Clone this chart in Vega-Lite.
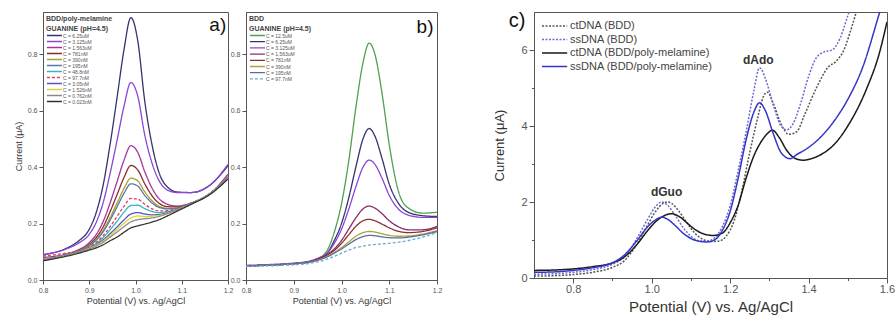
{
"$schema": "https://vega.github.io/schema/vega-lite/v6.json",
"background": "white",
"padding": {"left": 13, "top": 10, "right": 0, "bottom": 0},
"bounds": "flush",
"spacing": 491,
"config": {
  "font": "Liberation Sans",
  "view": {"stroke": "#555", "strokeWidth": 1},
  "axis": {"grid": false, "domainColor": "#555", "tickColor": "#555", "labelColor": "#555", "titleColor": "#333", "titleFontWeight": "normal", "labelFlush": false, "labelOverlap": false, "labelPadding": 2}
},
"resolve": {"scale": {"color": "independent", "strokeDash": "independent"}, "legend": {"color": "independent", "strokeDash": "independent"}},
"hconcat": [
{
  "bounds": "flush",
  "spacing": 18,
  "resolve": {"scale": {"color": "independent", "strokeDash": "independent"}, "legend": {"color": "independent", "strokeDash": "independent"}},
  "hconcat": [
  {
    "width": 185, "height": 268,
    "data": {"values": [
{"s":"C = 6.25uM","x":0.8,"y":0.09},{"s":"C = 6.25uM","x":0.85,"y":0.112},{"s":"C = 6.25uM","x":0.875,"y":0.136},{"s":"C = 6.25uM","x":0.9,"y":0.18},{"s":"C = 6.25uM","x":0.915,"y":0.239},{"s":"C = 6.25uM","x":0.93,"y":0.336},{"s":"C = 6.25uM","x":0.945,"y":0.48},{"s":"C = 6.25uM","x":0.96,"y":0.645},{"s":"C = 6.25uM","x":0.975,"y":0.815},{"s":"C = 6.25uM","x":0.99,"y":0.93},{"s":"C = 6.25uM","x":1.005,"y":0.847},{"s":"C = 6.25uM","x":1.02,"y":0.634},{"s":"C = 6.25uM","x":1.035,"y":0.485},{"s":"C = 6.25uM","x":1.05,"y":0.385},{"s":"C = 6.25uM","x":1.07,"y":0.328},{"s":"C = 6.25uM","x":1.09,"y":0.312},{"s":"C = 6.25uM","x":1.12,"y":0.31},{"s":"C = 6.25uM","x":1.16,"y":0.335},{"s":"C = 6.25uM","x":1.2,"y":0.405},
{"s":"C = 3.125uM","x":0.8,"y":0.09},{"s":"C = 3.125uM","x":0.85,"y":0.11},{"s":"C = 3.125uM","x":0.875,"y":0.129},{"s":"C = 3.125uM","x":0.9,"y":0.162},{"s":"C = 3.125uM","x":0.915,"y":0.204},{"s":"C = 3.125uM","x":0.93,"y":0.274},{"s":"C = 3.125uM","x":0.945,"y":0.377},{"s":"C = 3.125uM","x":0.96,"y":0.494},{"s":"C = 3.125uM","x":0.975,"y":0.615},{"s":"C = 3.125uM","x":0.99,"y":0.7},{"s":"C = 3.125uM","x":1.005,"y":0.651},{"s":"C = 3.125uM","x":1.02,"y":0.514},{"s":"C = 3.125uM","x":1.035,"y":0.418},{"s":"C = 3.125uM","x":1.05,"y":0.355},{"s":"C = 3.125uM","x":1.07,"y":0.318},{"s":"C = 3.125uM","x":1.09,"y":0.31},{"s":"C = 3.125uM","x":1.12,"y":0.31},{"s":"C = 3.125uM","x":1.16,"y":0.335},{"s":"C = 3.125uM","x":1.2,"y":0.41},
{"s":"C = 1.563uM","x":0.8,"y":0.08},{"s":"C = 1.563uM","x":0.85,"y":0.092},{"s":"C = 1.563uM","x":0.875,"y":0.106},{"s":"C = 1.563uM","x":0.9,"y":0.132},{"s":"C = 1.563uM","x":0.915,"y":0.161},{"s":"C = 1.563uM","x":0.93,"y":0.207},{"s":"C = 1.563uM","x":0.945,"y":0.273},{"s":"C = 1.563uM","x":0.96,"y":0.348},{"s":"C = 1.563uM","x":0.975,"y":0.424},{"s":"C = 1.563uM","x":0.99,"y":0.476},{"s":"C = 1.563uM","x":1.005,"y":0.452},{"s":"C = 1.563uM","x":1.02,"y":0.384},{"s":"C = 1.563uM","x":1.035,"y":0.328},{"s":"C = 1.563uM","x":1.05,"y":0.29},{"s":"C = 1.563uM","x":1.07,"y":0.268},{"s":"C = 1.563uM","x":1.09,"y":0.262},{"s":"C = 1.563uM","x":1.12,"y":0.273},{"s":"C = 1.563uM","x":1.16,"y":0.305},{"s":"C = 1.563uM","x":1.2,"y":0.375},
{"s":"C = 781nM","x":0.8,"y":0.072},{"s":"C = 781nM","x":0.85,"y":0.09},{"s":"C = 781nM","x":0.875,"y":0.104},{"s":"C = 781nM","x":0.9,"y":0.126},{"s":"C = 781nM","x":0.915,"y":0.15},{"s":"C = 781nM","x":0.93,"y":0.188},{"s":"C = 781nM","x":0.945,"y":0.242},{"s":"C = 781nM","x":0.96,"y":0.302},{"s":"C = 781nM","x":0.975,"y":0.363},{"s":"C = 781nM","x":0.99,"y":0.406},{"s":"C = 781nM","x":1.005,"y":0.39},{"s":"C = 781nM","x":1.02,"y":0.341},{"s":"C = 781nM","x":1.035,"y":0.3},{"s":"C = 781nM","x":1.05,"y":0.273},{"s":"C = 781nM","x":1.07,"y":0.26},{"s":"C = 781nM","x":1.09,"y":0.259},{"s":"C = 781nM","x":1.12,"y":0.272},{"s":"C = 781nM","x":1.16,"y":0.305},{"s":"C = 781nM","x":1.2,"y":0.365},
{"s":"C = 390nM","x":0.8,"y":0.072},{"s":"C = 390nM","x":0.85,"y":0.09},{"s":"C = 390nM","x":0.875,"y":0.103},{"s":"C = 390nM","x":0.9,"y":0.123},{"s":"C = 390nM","x":0.915,"y":0.144},{"s":"C = 390nM","x":0.93,"y":0.176},{"s":"C = 390nM","x":0.945,"y":0.221},{"s":"C = 390nM","x":0.96,"y":0.272},{"s":"C = 390nM","x":0.975,"y":0.324},{"s":"C = 390nM","x":0.99,"y":0.361},{"s":"C = 390nM","x":1.005,"y":0.351},{"s":"C = 390nM","x":1.02,"y":0.313},{"s":"C = 390nM","x":1.035,"y":0.282},{"s":"C = 390nM","x":1.05,"y":0.262},{"s":"C = 390nM","x":1.07,"y":0.254},{"s":"C = 390nM","x":1.09,"y":0.256},{"s":"C = 390nM","x":1.12,"y":0.272},{"s":"C = 390nM","x":1.16,"y":0.305},{"s":"C = 390nM","x":1.2,"y":0.365},
{"s":"C = 195nM","x":0.8,"y":0.072},{"s":"C = 195nM","x":0.85,"y":0.09},{"s":"C = 195nM","x":0.875,"y":0.102},{"s":"C = 195nM","x":0.9,"y":0.121},{"s":"C = 195nM","x":0.915,"y":0.141},{"s":"C = 195nM","x":0.93,"y":0.171},{"s":"C = 195nM","x":0.945,"y":0.212},{"s":"C = 195nM","x":0.96,"y":0.259},{"s":"C = 195nM","x":0.975,"y":0.307},{"s":"C = 195nM","x":0.99,"y":0.341},{"s":"C = 195nM","x":1.005,"y":0.333},{"s":"C = 195nM","x":1.02,"y":0.3},{"s":"C = 195nM","x":1.035,"y":0.274},{"s":"C = 195nM","x":1.05,"y":0.258},{"s":"C = 195nM","x":1.07,"y":0.252},{"s":"C = 195nM","x":1.09,"y":0.255},{"s":"C = 195nM","x":1.12,"y":0.272},{"s":"C = 195nM","x":1.16,"y":0.305},{"s":"C = 195nM","x":1.2,"y":0.365},
{"s":"C = 48.8nM","x":0.8,"y":0.072},{"s":"C = 48.8nM","x":0.85,"y":0.089},{"s":"C = 48.8nM","x":0.875,"y":0.1},{"s":"C = 48.8nM","x":0.9,"y":0.115},{"s":"C = 48.8nM","x":0.915,"y":0.129},{"s":"C = 48.8nM","x":0.93,"y":0.15},{"s":"C = 48.8nM","x":0.945,"y":0.178},{"s":"C = 48.8nM","x":0.96,"y":0.208},{"s":"C = 48.8nM","x":0.975,"y":0.24},{"s":"C = 48.8nM","x":0.99,"y":0.264},{"s":"C = 48.8nM","x":1.005,"y":0.265},{"s":"C = 48.8nM","x":1.02,"y":0.253},{"s":"C = 48.8nM","x":1.035,"y":0.243},{"s":"C = 48.8nM","x":1.05,"y":0.239},{"s":"C = 48.8nM","x":1.07,"y":0.243},{"s":"C = 48.8nM","x":1.09,"y":0.251},{"s":"C = 48.8nM","x":1.12,"y":0.271},{"s":"C = 48.8nM","x":1.16,"y":0.305},{"s":"C = 48.8nM","x":1.2,"y":0.36},
{"s":"C = 97.7nM","x":0.8,"y":0.085},{"s":"C = 97.7nM","x":0.85,"y":0.095},{"s":"C = 97.7nM","x":0.875,"y":0.102},{"s":"C = 97.7nM","x":0.9,"y":0.117},{"s":"C = 97.7nM","x":0.915,"y":0.133},{"s":"C = 97.7nM","x":0.93,"y":0.157},{"s":"C = 97.7nM","x":0.945,"y":0.189},{"s":"C = 97.7nM","x":0.96,"y":0.225},{"s":"C = 97.7nM","x":0.975,"y":0.261},{"s":"C = 97.7nM","x":0.99,"y":0.289},{"s":"C = 97.7nM","x":1.005,"y":0.287},{"s":"C = 97.7nM","x":1.02,"y":0.268},{"s":"C = 97.7nM","x":1.035,"y":0.253},{"s":"C = 97.7nM","x":1.05,"y":0.245},{"s":"C = 97.7nM","x":1.07,"y":0.246},{"s":"C = 97.7nM","x":1.09,"y":0.253},{"s":"C = 97.7nM","x":1.12,"y":0.271},{"s":"C = 97.7nM","x":1.16,"y":0.305},{"s":"C = 97.7nM","x":1.2,"y":0.36},
{"s":"C = 3.05nM","x":0.8,"y":0.072},{"s":"C = 3.05nM","x":0.85,"y":0.089},{"s":"C = 3.05nM","x":0.875,"y":0.099},{"s":"C = 3.05nM","x":0.9,"y":0.113},{"s":"C = 3.05nM","x":0.915,"y":0.125},{"s":"C = 3.05nM","x":0.93,"y":0.142},{"s":"C = 3.05nM","x":0.945,"y":0.164},{"s":"C = 3.05nM","x":0.96,"y":0.188},{"s":"C = 3.05nM","x":0.975,"y":0.213},{"s":"C = 3.05nM","x":0.99,"y":0.234},{"s":"C = 3.05nM","x":1.005,"y":0.239},{"s":"C = 3.05nM","x":1.02,"y":0.234},{"s":"C = 3.05nM","x":1.035,"y":0.231},{"s":"C = 3.05nM","x":1.05,"y":0.232},{"s":"C = 3.05nM","x":1.07,"y":0.239},{"s":"C = 3.05nM","x":1.09,"y":0.25},{"s":"C = 3.05nM","x":1.12,"y":0.271},{"s":"C = 3.05nM","x":1.16,"y":0.305},{"s":"C = 3.05nM","x":1.2,"y":0.36},
{"s":"C = 1.526nM","x":0.8,"y":0.072},{"s":"C = 1.526nM","x":0.85,"y":0.088},{"s":"C = 1.526nM","x":0.875,"y":0.098},{"s":"C = 1.526nM","x":0.9,"y":0.112},{"s":"C = 1.526nM","x":0.915,"y":0.123},{"s":"C = 1.526nM","x":0.93,"y":0.138},{"s":"C = 1.526nM","x":0.945,"y":0.158},{"s":"C = 1.526nM","x":0.96,"y":0.179},{"s":"C = 1.526nM","x":0.975,"y":0.201},{"s":"C = 1.526nM","x":0.99,"y":0.22},{"s":"C = 1.526nM","x":1.005,"y":0.227},{"s":"C = 1.526nM","x":1.02,"y":0.225},{"s":"C = 1.526nM","x":1.035,"y":0.226},{"s":"C = 1.526nM","x":1.05,"y":0.229},{"s":"C = 1.526nM","x":1.07,"y":0.237},{"s":"C = 1.526nM","x":1.09,"y":0.249},{"s":"C = 1.526nM","x":1.12,"y":0.27},{"s":"C = 1.526nM","x":1.16,"y":0.305},{"s":"C = 1.526nM","x":1.2,"y":0.36},
{"s":"C = 0.762nM","x":0.8,"y":0.072},{"s":"C = 0.762nM","x":0.85,"y":0.088},{"s":"C = 0.762nM","x":0.875,"y":0.098},{"s":"C = 0.762nM","x":0.9,"y":0.11},{"s":"C = 0.762nM","x":0.915,"y":0.12},{"s":"C = 0.762nM","x":0.93,"y":0.134},{"s":"C = 0.762nM","x":0.945,"y":0.152},{"s":"C = 0.762nM","x":0.96,"y":0.17},{"s":"C = 0.762nM","x":0.975,"y":0.189},{"s":"C = 0.762nM","x":0.99,"y":0.206},{"s":"C = 0.762nM","x":1.005,"y":0.214},{"s":"C = 0.762nM","x":1.02,"y":0.217},{"s":"C = 0.762nM","x":1.035,"y":0.22},{"s":"C = 0.762nM","x":1.05,"y":0.225},{"s":"C = 0.762nM","x":1.07,"y":0.236},{"s":"C = 0.762nM","x":1.09,"y":0.249},{"s":"C = 0.762nM","x":1.12,"y":0.27},{"s":"C = 0.762nM","x":1.16,"y":0.305},{"s":"C = 0.762nM","x":1.2,"y":0.36},
{"s":"C = 0.023nM","x":0.8,"y":0.068},{"s":"C = 0.023nM","x":0.85,"y":0.084},{"s":"C = 0.023nM","x":0.875,"y":0.094},{"s":"C = 0.023nM","x":0.9,"y":0.106},{"s":"C = 0.023nM","x":0.915,"y":0.114},{"s":"C = 0.023nM","x":0.93,"y":0.125},{"s":"C = 0.023nM","x":0.945,"y":0.139},{"s":"C = 0.023nM","x":0.96,"y":0.152},{"s":"C = 0.023nM","x":0.975,"y":0.169},{"s":"C = 0.023nM","x":0.99,"y":0.185},{"s":"C = 0.023nM","x":1.005,"y":0.192},{"s":"C = 0.023nM","x":1.02,"y":0.198},{"s":"C = 0.023nM","x":1.035,"y":0.205},{"s":"C = 0.023nM","x":1.05,"y":0.213},{"s":"C = 0.023nM","x":1.07,"y":0.228},{"s":"C = 0.023nM","x":1.09,"y":0.244},{"s":"C = 0.023nM","x":1.12,"y":0.268},{"s":"C = 0.023nM","x":1.16,"y":0.302},{"s":"C = 0.023nM","x":1.2,"y":0.358}
    ]},
    "layer": [
      {
        "mark": {"type": "line", "strokeWidth": 1.3, "interpolate": "monotone"},
        "encoding": {
          "x": {"field": "x", "type": "quantitative", "scale": {"domain": [0.8, 1.2], "nice": false, "zero": false},
            "axis": {"title": "Potential (V) vs. Ag/AgCl", "titleFontSize": 9, "titlePadding": 3, "labelFontSize": 7, "labelOverlap": false,
              "values": [0.8, 0.85, 0.9, 0.95, 1.0, 1.05, 1.1, 1.15, 1.2],
              "labelExpr": "round(datum.value*100)%10==0 ? format(datum.value,'.1f') : ''",
              "tickSize": {"condition": {"test": "round(datum.value*100)%10!=0", "value": 2}, "value": 4}}},
          "y": {"field": "y", "type": "quantitative", "scale": {"domain": [0, 0.95], "nice": false},
            "axis": {"title": "Current (μA)", "titleFontSize": 9, "titlePadding": 4, "labelFontSize": 7, "labelOverlap": false,
              "values": [0, 0.05, 0.1, 0.15, 0.2, 0.25, 0.3, 0.35, 0.4, 0.45, 0.5, 0.55, 0.6, 0.65, 0.7, 0.75, 0.8, 0.85, 0.9],
              "labelExpr": "round(datum.value*100)%10==0 ? format(datum.value,'.1f') : ''",
              "tickSize": {"condition": {"test": "round(datum.value*100)%10!=0", "value": 2}, "value": 4}}},
          "color": {"field": "s", "type": "nominal",
            "scale": {"domain": ["C = 6.25uM","C = 3.125uM","C = 1.563uM","C = 781nM","C = 390nM","C = 195nM","C = 48.8nM","C = 97.7nM","C = 3.05nM","C = 1.526nM","C = 0.762nM","C = 0.023nM"],
              "range": ["#33336e","#8a45d8","#a3359e","#8b2a2a","#a8a030","#5577aa","#35b8c0","#e04060","#5a50c8","#d8d830","#8a8a8a","#303030"]},
            "legend": {"orient": "top-left", "offset": 3, "padding": 0, "title": ["BDD/poly-melamine", "GUANINE (pH=4.5)"], "titleFontSize": 7, "titleFontWeight": "bold", "titleColor": "#444", "titlePadding": 1, "titleLineHeight": 10, "labelFontSize": 5, "labelColor": "#555", "labelOffset": 12, "symbolType": "M-1,0H8.5", "symbolSize": 10, "symbolStrokeWidth": 1.3, "symbolFillColor": "transparent", "rowPadding": -1.6}},
          "strokeDash": {"field": "s", "type": "nominal",
            "scale": {"domain": ["C = 6.25uM","C = 3.125uM","C = 1.563uM","C = 781nM","C = 390nM","C = 195nM","C = 48.8nM","C = 97.7nM","C = 3.05nM","C = 1.526nM","C = 0.762nM","C = 0.023nM"],
              "range": [[1,0],[1,0],[1,0],[1,0],[1,0],[1,0],[1,0],[3,2],[1,0],[1,0],[1,0],[1,0]]},
            "legend": {"orient": "top-left", "offset": 3, "padding": 0, "title": ["BDD/poly-melamine", "GUANINE (pH=4.5)"], "titleFontSize": 7, "titleFontWeight": "bold", "titleColor": "#444", "titlePadding": 1, "titleLineHeight": 10, "labelFontSize": 5, "labelColor": "#555", "labelOffset": 12, "symbolType": "M-1,0H8.5", "symbolSize": 10, "symbolStrokeWidth": 1.3, "symbolFillColor": "transparent", "rowPadding": -1.6}}
        }
      },
      {
        "data": {"values": [{"t": "a)"}]},
        "mark": {"type": "text", "fontSize": 19, "color": "#111", "align": "center", "baseline": "middle"},
        "encoding": {"x": {"datum": 1.178, "type": "quantitative"}, "y": {"datum": 0.905, "type": "quantitative"}, "text": {"field": "t"}}
      }
    ]
  },
  {
    "width": 191, "height": 268,
    "data": {"values": [
{"s":"C = 12.5uM","x":0.8,"y":0.05},{"s":"C = 12.5uM","x":0.85,"y":0.053},{"s":"C = 12.5uM","x":0.9,"y":0.058},{"s":"C = 12.5uM","x":0.93,"y":0.063},{"s":"C = 12.5uM","x":0.95,"y":0.075},{"s":"C = 12.5uM","x":0.97,"y":0.105},{"s":"C = 12.5uM","x":0.985,"y":0.17},{"s":"C = 12.5uM","x":1.0,"y":0.27},{"s":"C = 12.5uM","x":1.015,"y":0.42},{"s":"C = 12.5uM","x":1.03,"y":0.61},{"s":"C = 12.5uM","x":1.045,"y":0.77},{"s":"C = 12.5uM","x":1.058,"y":0.84},{"s":"C = 12.5uM","x":1.07,"y":0.8},{"s":"C = 12.5uM","x":1.085,"y":0.66},{"s":"C = 12.5uM","x":1.1,"y":0.48},{"s":"C = 12.5uM","x":1.12,"y":0.31},{"s":"C = 12.5uM","x":1.14,"y":0.255},{"s":"C = 12.5uM","x":1.17,"y":0.237},{"s":"C = 12.5uM","x":1.2,"y":0.24},
{"s":"C = 6.25uM","x":0.8,"y":0.05},{"s":"C = 6.25uM","x":0.85,"y":0.053},{"s":"C = 6.25uM","x":0.9,"y":0.058},{"s":"C = 6.25uM","x":0.93,"y":0.064},{"s":"C = 6.25uM","x":0.95,"y":0.075},{"s":"C = 6.25uM","x":0.97,"y":0.095},{"s":"C = 6.25uM","x":0.985,"y":0.14},{"s":"C = 6.25uM","x":1.0,"y":0.2},{"s":"C = 6.25uM","x":1.015,"y":0.29},{"s":"C = 6.25uM","x":1.03,"y":0.4},{"s":"C = 6.25uM","x":1.045,"y":0.5},{"s":"C = 6.25uM","x":1.058,"y":0.537},{"s":"C = 6.25uM","x":1.07,"y":0.51},{"s":"C = 6.25uM","x":1.085,"y":0.43},{"s":"C = 6.25uM","x":1.1,"y":0.34},{"s":"C = 6.25uM","x":1.12,"y":0.27},{"s":"C = 6.25uM","x":1.14,"y":0.24},{"s":"C = 6.25uM","x":1.17,"y":0.228},{"s":"C = 6.25uM","x":1.2,"y":0.225},
{"s":"C = 3.125uM","x":0.8,"y":0.052},{"s":"C = 3.125uM","x":0.85,"y":0.055},{"s":"C = 3.125uM","x":0.9,"y":0.06},{"s":"C = 3.125uM","x":0.93,"y":0.066},{"s":"C = 3.125uM","x":0.95,"y":0.077},{"s":"C = 3.125uM","x":0.97,"y":0.095},{"s":"C = 3.125uM","x":0.985,"y":0.13},{"s":"C = 3.125uM","x":1.0,"y":0.18},{"s":"C = 3.125uM","x":1.015,"y":0.25},{"s":"C = 3.125uM","x":1.03,"y":0.33},{"s":"C = 3.125uM","x":1.045,"y":0.4},{"s":"C = 3.125uM","x":1.058,"y":0.425},{"s":"C = 3.125uM","x":1.07,"y":0.41},{"s":"C = 3.125uM","x":1.085,"y":0.36},{"s":"C = 3.125uM","x":1.1,"y":0.3},{"s":"C = 3.125uM","x":1.12,"y":0.25},{"s":"C = 3.125uM","x":1.14,"y":0.23},{"s":"C = 3.125uM","x":1.17,"y":0.222},{"s":"C = 3.125uM","x":1.2,"y":0.222},
{"s":"C = 1.563uM","x":0.8,"y":0.05},{"s":"C = 1.563uM","x":0.85,"y":0.053},{"s":"C = 1.563uM","x":0.9,"y":0.058},{"s":"C = 1.563uM","x":0.93,"y":0.064},{"s":"C = 1.563uM","x":0.95,"y":0.074},{"s":"C = 1.563uM","x":0.97,"y":0.09},{"s":"C = 1.563uM","x":0.985,"y":0.11},{"s":"C = 1.563uM","x":1.0,"y":0.14},{"s":"C = 1.563uM","x":1.015,"y":0.18},{"s":"C = 1.563uM","x":1.03,"y":0.22},{"s":"C = 1.563uM","x":1.045,"y":0.252},{"s":"C = 1.563uM","x":1.058,"y":0.262},{"s":"C = 1.563uM","x":1.07,"y":0.255},{"s":"C = 1.563uM","x":1.085,"y":0.235},{"s":"C = 1.563uM","x":1.1,"y":0.21},{"s":"C = 1.563uM","x":1.12,"y":0.188},{"s":"C = 1.563uM","x":1.14,"y":0.178},{"s":"C = 1.563uM","x":1.17,"y":0.178},{"s":"C = 1.563uM","x":1.2,"y":0.19},
{"s":"C = 781nM","x":0.8,"y":0.05},{"s":"C = 781nM","x":0.85,"y":0.053},{"s":"C = 781nM","x":0.9,"y":0.058},{"s":"C = 781nM","x":0.93,"y":0.064},{"s":"C = 781nM","x":0.95,"y":0.073},{"s":"C = 781nM","x":0.97,"y":0.088},{"s":"C = 781nM","x":0.985,"y":0.105},{"s":"C = 781nM","x":1.0,"y":0.13},{"s":"C = 781nM","x":1.015,"y":0.16},{"s":"C = 781nM","x":1.03,"y":0.19},{"s":"C = 781nM","x":1.045,"y":0.21},{"s":"C = 781nM","x":1.058,"y":0.215},{"s":"C = 781nM","x":1.07,"y":0.21},{"s":"C = 781nM","x":1.085,"y":0.198},{"s":"C = 781nM","x":1.1,"y":0.185},{"s":"C = 781nM","x":1.12,"y":0.172},{"s":"C = 781nM","x":1.14,"y":0.168},{"s":"C = 781nM","x":1.17,"y":0.172},{"s":"C = 781nM","x":1.2,"y":0.185},
{"s":"C = 390nM","x":0.8,"y":0.05},{"s":"C = 390nM","x":0.85,"y":0.053},{"s":"C = 390nM","x":0.9,"y":0.058},{"s":"C = 390nM","x":0.93,"y":0.063},{"s":"C = 390nM","x":0.95,"y":0.071},{"s":"C = 390nM","x":0.97,"y":0.084},{"s":"C = 390nM","x":0.985,"y":0.098},{"s":"C = 390nM","x":1.0,"y":0.115},{"s":"C = 390nM","x":1.015,"y":0.135},{"s":"C = 390nM","x":1.03,"y":0.155},{"s":"C = 390nM","x":1.045,"y":0.168},{"s":"C = 390nM","x":1.058,"y":0.172},{"s":"C = 390nM","x":1.07,"y":0.17},{"s":"C = 390nM","x":1.085,"y":0.164},{"s":"C = 390nM","x":1.1,"y":0.158},{"s":"C = 390nM","x":1.12,"y":0.155},{"s":"C = 390nM","x":1.14,"y":0.156},{"s":"C = 390nM","x":1.17,"y":0.163},{"s":"C = 390nM","x":1.2,"y":0.175},
{"s":"C = 195nM","x":0.8,"y":0.05},{"s":"C = 195nM","x":0.85,"y":0.053},{"s":"C = 195nM","x":0.9,"y":0.058},{"s":"C = 195nM","x":0.93,"y":0.063},{"s":"C = 195nM","x":0.95,"y":0.07},{"s":"C = 195nM","x":0.97,"y":0.082},{"s":"C = 195nM","x":0.985,"y":0.095},{"s":"C = 195nM","x":1.0,"y":0.11},{"s":"C = 195nM","x":1.015,"y":0.127},{"s":"C = 195nM","x":1.03,"y":0.143},{"s":"C = 195nM","x":1.045,"y":0.154},{"s":"C = 195nM","x":1.058,"y":0.158},{"s":"C = 195nM","x":1.07,"y":0.157},{"s":"C = 195nM","x":1.085,"y":0.153},{"s":"C = 195nM","x":1.1,"y":0.15},{"s":"C = 195nM","x":1.12,"y":0.149},{"s":"C = 195nM","x":1.14,"y":0.152},{"s":"C = 195nM","x":1.17,"y":0.16},{"s":"C = 195nM","x":1.2,"y":0.172},
{"s":"C = 97.7nM","x":0.8,"y":0.048},{"s":"C = 97.7nM","x":0.85,"y":0.05},{"s":"C = 97.7nM","x":0.9,"y":0.054},{"s":"C = 97.7nM","x":0.93,"y":0.058},{"s":"C = 97.7nM","x":0.95,"y":0.064},{"s":"C = 97.7nM","x":0.97,"y":0.074},{"s":"C = 97.7nM","x":0.985,"y":0.084},{"s":"C = 97.7nM","x":1.0,"y":0.095},{"s":"C = 97.7nM","x":1.015,"y":0.106},{"s":"C = 97.7nM","x":1.03,"y":0.115},{"s":"C = 97.7nM","x":1.045,"y":0.12},{"s":"C = 97.7nM","x":1.058,"y":0.124},{"s":"C = 97.7nM","x":1.07,"y":0.126},{"s":"C = 97.7nM","x":1.085,"y":0.128},{"s":"C = 97.7nM","x":1.1,"y":0.13},{"s":"C = 97.7nM","x":1.12,"y":0.134},{"s":"C = 97.7nM","x":1.14,"y":0.14},{"s":"C = 97.7nM","x":1.17,"y":0.152},{"s":"C = 97.7nM","x":1.2,"y":0.168}
    ]},
    "layer": [
      {
        "mark": {"type": "line", "strokeWidth": 1.3, "interpolate": "monotone"},
        "encoding": {
          "x": {"field": "x", "type": "quantitative", "scale": {"domain": [0.8, 1.2], "nice": false, "zero": false},
            "axis": {"title": "Potential (V) vs. Ag/AgCl", "titleFontSize": 9, "titlePadding": 3, "labelFontSize": 7, "labelOverlap": false,
              "values": [0.8, 0.85, 0.9, 0.95, 1.0, 1.05, 1.1, 1.15, 1.2],
              "labelExpr": "round(datum.value*100)%10==0 ? format(datum.value,'.1f') : ''",
              "tickSize": {"condition": {"test": "round(datum.value*100)%10!=0", "value": 2}, "value": 4}}},
          "y": {"field": "y", "type": "quantitative", "scale": {"domain": [0, 0.95], "nice": false},
            "axis": {"title": null, "labelFontSize": 7, "labelOverlap": false,
              "values": [0, 0.05, 0.1, 0.15, 0.2, 0.25, 0.3, 0.35, 0.4, 0.45, 0.5, 0.55, 0.6, 0.65, 0.7, 0.75, 0.8, 0.85, 0.9],
              "labelExpr": "round(datum.value*100)%10==0 ? format(datum.value,'.1f') : ''",
              "tickSize": {"condition": {"test": "round(datum.value*100)%10!=0", "value": 2}, "value": 4}}},
          "color": {"field": "s", "type": "nominal",
            "scale": {"domain": ["C = 12.5uM","C = 6.25uM","C = 3.125uM","C = 1.563uM","C = 781nM","C = 390nM","C = 195nM","C = 97.7nM"],
              "range": ["#4fa04f","#33336e","#8a45d8","#8a2a6a","#8b3030","#b0a040","#5070a0","#70a8d0"]},
            "legend": {"orient": "top-left", "offset": 3, "padding": 0, "title": ["BDD", "GUANINE (pH=4.5)"], "titleFontSize": 7, "titleFontWeight": "bold", "titleColor": "#444", "titlePadding": 1, "titleLineHeight": 10, "labelFontSize": 5, "labelColor": "#555", "labelOffset": 12, "symbolType": "M-1,0H8.5", "symbolSize": 10, "symbolStrokeWidth": 1.3, "symbolFillColor": "transparent", "rowPadding": -0.8}},
          "strokeDash": {"field": "s", "type": "nominal",
            "scale": {"domain": ["C = 12.5uM","C = 6.25uM","C = 3.125uM","C = 1.563uM","C = 781nM","C = 390nM","C = 195nM","C = 97.7nM"],
              "range": [[1,0],[1,0],[1,0],[1,0],[1,0],[1,0],[1,0],[3,2]]},
            "legend": {"orient": "top-left", "offset": 3, "padding": 0, "title": ["BDD", "GUANINE (pH=4.5)"], "titleFontSize": 7, "titleFontWeight": "bold", "titleColor": "#444", "titlePadding": 1, "titleLineHeight": 10, "labelFontSize": 5, "labelColor": "#555", "labelOffset": 12, "symbolType": "M-1,0H8.5", "symbolSize": 10, "symbolStrokeWidth": 1.3, "symbolFillColor": "transparent", "rowPadding": -0.8}}
        }
      },
      {
        "data": {"values": [{"t": "b)"}]},
        "mark": {"type": "text", "fontSize": 19, "color": "#111", "align": "center", "baseline": "middle"},
        "encoding": {"x": {"datum": 1.175, "type": "quantitative"}, "y": {"datum": 0.897, "type": "quantitative"}, "text": {"field": "t"}}
      }
    ]
  }
  ]
},
{
  "width": 353, "height": 266,
  "data": {"values": [
{"s":"ctDNA  (BDD)","x":0.7,"y":0.05},{"s":"ctDNA  (BDD)","x":0.75,"y":0.06},{"s":"ctDNA  (BDD)","x":0.8,"y":0.09},{"s":"ctDNA  (BDD)","x":0.85,"y":0.15},{"s":"ctDNA  (BDD)","x":0.9,"y":0.28},{"s":"ctDNA  (BDD)","x":0.93,"y":0.45},{"s":"ctDNA  (BDD)","x":0.96,"y":0.85},{"s":"ctDNA  (BDD)","x":0.99,"y":1.4},{"s":"ctDNA  (BDD)","x":1.01,"y":1.75},{"s":"ctDNA  (BDD)","x":1.03,"y":1.97},{"s":"ctDNA  (BDD)","x":1.04,"y":2.0},{"s":"ctDNA  (BDD)","x":1.05,"y":1.97},{"s":"ctDNA  (BDD)","x":1.07,"y":1.75},{"s":"ctDNA  (BDD)","x":1.09,"y":1.45},{"s":"ctDNA  (BDD)","x":1.11,"y":1.18},{"s":"ctDNA  (BDD)","x":1.13,"y":1.02},{"s":"ctDNA  (BDD)","x":1.15,"y":0.96},{"s":"ctDNA  (BDD)","x":1.17,"y":0.97},{"s":"ctDNA  (BDD)","x":1.19,"y":1.1},{"s":"ctDNA  (BDD)","x":1.21,"y":1.5},{"s":"ctDNA  (BDD)","x":1.23,"y":2.3},{"s":"ctDNA  (BDD)","x":1.25,"y":3.3},{"s":"ctDNA  (BDD)","x":1.27,"y":4.2},{"s":"ctDNA  (BDD)","x":1.285,"y":4.78},{"s":"ctDNA  (BDD)","x":1.295,"y":4.89},{"s":"ctDNA  (BDD)","x":1.31,"y":4.6},{"s":"ctDNA  (BDD)","x":1.33,"y":4.05},{"s":"ctDNA  (BDD)","x":1.35,"y":3.78},{"s":"ctDNA  (BDD)","x":1.37,"y":3.85},{"s":"ctDNA  (BDD)","x":1.39,"y":4.3},{"s":"ctDNA  (BDD)","x":1.42,"y":5.0},{"s":"ctDNA  (BDD)","x":1.45,"y":5.55},{"s":"ctDNA  (BDD)","x":1.47,"y":5.7},{"s":"ctDNA  (BDD)","x":1.49,"y":6.0},{"s":"ctDNA  (BDD)","x":1.51,"y":6.6},{"s":"ctDNA  (BDD)","x":1.53,"y":7.3},
{"s":"ssDNA (BDD)","x":0.7,"y":0.1},{"s":"ssDNA (BDD)","x":0.75,"y":0.11},{"s":"ssDNA (BDD)","x":0.8,"y":0.15},{"s":"ssDNA (BDD)","x":0.85,"y":0.22},{"s":"ssDNA (BDD)","x":0.9,"y":0.36},{"s":"ssDNA (BDD)","x":0.93,"y":0.55},{"s":"ssDNA (BDD)","x":0.96,"y":1.0},{"s":"ssDNA (BDD)","x":0.99,"y":1.55},{"s":"ssDNA (BDD)","x":1.01,"y":1.88},{"s":"ssDNA (BDD)","x":1.025,"y":2.0},{"s":"ssDNA (BDD)","x":1.04,"y":1.92},{"s":"ssDNA (BDD)","x":1.06,"y":1.65},{"s":"ssDNA (BDD)","x":1.08,"y":1.33},{"s":"ssDNA (BDD)","x":1.1,"y":1.1},{"s":"ssDNA (BDD)","x":1.12,"y":0.98},{"s":"ssDNA (BDD)","x":1.14,"y":0.97},{"s":"ssDNA (BDD)","x":1.16,"y":1.05},{"s":"ssDNA (BDD)","x":1.18,"y":1.35},{"s":"ssDNA (BDD)","x":1.2,"y":1.9},{"s":"ssDNA (BDD)","x":1.22,"y":2.8},{"s":"ssDNA (BDD)","x":1.24,"y":3.8},{"s":"ssDNA (BDD)","x":1.26,"y":4.9},{"s":"ssDNA (BDD)","x":1.275,"y":5.53},{"s":"ssDNA (BDD)","x":1.29,"y":5.25},{"s":"ssDNA (BDD)","x":1.31,"y":4.55},{"s":"ssDNA (BDD)","x":1.33,"y":4.0},{"s":"ssDNA (BDD)","x":1.345,"y":3.9},{"s":"ssDNA (BDD)","x":1.36,"y":4.05},{"s":"ssDNA (BDD)","x":1.38,"y":4.6},{"s":"ssDNA (BDD)","x":1.4,"y":5.3},{"s":"ssDNA (BDD)","x":1.42,"y":5.8},{"s":"ssDNA (BDD)","x":1.44,"y":5.95},{"s":"ssDNA (BDD)","x":1.46,"y":6.0},{"s":"ssDNA (BDD)","x":1.48,"y":6.3},{"s":"ssDNA (BDD)","x":1.5,"y":6.9},{"s":"ssDNA (BDD)","x":1.52,"y":7.5},
{"s":"ctDNA  (BDD/poly-melamine)","x":0.7,"y":0.2},{"s":"ctDNA  (BDD/poly-melamine)","x":0.75,"y":0.21},{"s":"ctDNA  (BDD/poly-melamine)","x":0.8,"y":0.24},{"s":"ctDNA  (BDD/poly-melamine)","x":0.85,"y":0.3},{"s":"ctDNA  (BDD/poly-melamine)","x":0.9,"y":0.4},{"s":"ctDNA  (BDD/poly-melamine)","x":0.93,"y":0.55},{"s":"ctDNA  (BDD/poly-melamine)","x":0.96,"y":0.85},{"s":"ctDNA  (BDD/poly-melamine)","x":0.99,"y":1.25},{"s":"ctDNA  (BDD/poly-melamine)","x":1.01,"y":1.48},{"s":"ctDNA  (BDD/poly-melamine)","x":1.03,"y":1.63},{"s":"ctDNA  (BDD/poly-melamine)","x":1.051,"y":1.69},{"s":"ctDNA  (BDD/poly-melamine)","x":1.07,"y":1.62},{"s":"ctDNA  (BDD/poly-melamine)","x":1.09,"y":1.45},{"s":"ctDNA  (BDD/poly-melamine)","x":1.11,"y":1.28},{"s":"ctDNA  (BDD/poly-melamine)","x":1.13,"y":1.17},{"s":"ctDNA  (BDD/poly-melamine)","x":1.157,"y":1.12},{"s":"ctDNA  (BDD/poly-melamine)","x":1.18,"y":1.18},{"s":"ctDNA  (BDD/poly-melamine)","x":1.2,"y":1.45},{"s":"ctDNA  (BDD/poly-melamine)","x":1.22,"y":1.9},{"s":"ctDNA  (BDD/poly-melamine)","x":1.24,"y":2.6},{"s":"ctDNA  (BDD/poly-melamine)","x":1.26,"y":3.2},{"s":"ctDNA  (BDD/poly-melamine)","x":1.28,"y":3.6},{"s":"ctDNA  (BDD/poly-melamine)","x":1.295,"y":3.8},{"s":"ctDNA  (BDD/poly-melamine)","x":1.308,"y":3.89},{"s":"ctDNA  (BDD/poly-melamine)","x":1.325,"y":3.7},{"s":"ctDNA  (BDD/poly-melamine)","x":1.345,"y":3.35},{"s":"ctDNA  (BDD/poly-melamine)","x":1.365,"y":3.15},{"s":"ctDNA  (BDD/poly-melamine)","x":1.387,"y":3.1},{"s":"ctDNA  (BDD/poly-melamine)","x":1.41,"y":3.15},{"s":"ctDNA  (BDD/poly-melamine)","x":1.44,"y":3.3},{"s":"ctDNA  (BDD/poly-melamine)","x":1.463,"y":3.49},{"s":"ctDNA  (BDD/poly-melamine)","x":1.5,"y":4.0},{"s":"ctDNA  (BDD/poly-melamine)","x":1.548,"y":4.98},{"s":"ctDNA  (BDD/poly-melamine)","x":1.58,"y":5.9},{"s":"ctDNA  (BDD/poly-melamine)","x":1.6,"y":6.74},
{"s":"ssDNA (BDD/poly-melamine)","x":0.7,"y":0.15},{"s":"ssDNA (BDD/poly-melamine)","x":0.75,"y":0.16},{"s":"ssDNA (BDD/poly-melamine)","x":0.8,"y":0.2},{"s":"ssDNA (BDD/poly-melamine)","x":0.85,"y":0.27},{"s":"ssDNA (BDD/poly-melamine)","x":0.9,"y":0.4},{"s":"ssDNA (BDD/poly-melamine)","x":0.93,"y":0.6},{"s":"ssDNA (BDD/poly-melamine)","x":0.96,"y":0.95},{"s":"ssDNA (BDD/poly-melamine)","x":0.99,"y":1.35},{"s":"ssDNA (BDD/poly-melamine)","x":1.01,"y":1.53},{"s":"ssDNA (BDD/poly-melamine)","x":1.026,"y":1.6},{"s":"ssDNA (BDD/poly-melamine)","x":1.04,"y":1.55},{"s":"ssDNA (BDD/poly-melamine)","x":1.06,"y":1.38},{"s":"ssDNA (BDD/poly-melamine)","x":1.08,"y":1.18},{"s":"ssDNA (BDD/poly-melamine)","x":1.1,"y":1.04},{"s":"ssDNA (BDD/poly-melamine)","x":1.12,"y":0.97},{"s":"ssDNA (BDD/poly-melamine)","x":1.14,"y":0.95},{"s":"ssDNA (BDD/poly-melamine)","x":1.16,"y":1.0},{"s":"ssDNA (BDD/poly-melamine)","x":1.18,"y":1.25},{"s":"ssDNA (BDD/poly-melamine)","x":1.2,"y":1.75},{"s":"ssDNA (BDD/poly-melamine)","x":1.22,"y":2.6},{"s":"ssDNA (BDD/poly-melamine)","x":1.24,"y":3.6},{"s":"ssDNA (BDD/poly-melamine)","x":1.26,"y":4.35},{"s":"ssDNA (BDD/poly-melamine)","x":1.275,"y":4.61},{"s":"ssDNA (BDD/poly-melamine)","x":1.29,"y":4.4},{"s":"ssDNA (BDD/poly-melamine)","x":1.31,"y":3.8},{"s":"ssDNA (BDD/poly-melamine)","x":1.33,"y":3.3},{"s":"ssDNA (BDD/poly-melamine)","x":1.353,"y":3.14},{"s":"ssDNA (BDD/poly-melamine)","x":1.37,"y":3.25},{"s":"ssDNA (BDD/poly-melamine)","x":1.395,"y":3.4},{"s":"ssDNA (BDD/poly-melamine)","x":1.43,"y":3.7},{"s":"ssDNA (BDD/poly-melamine)","x":1.463,"y":4.1},{"s":"ssDNA (BDD/poly-melamine)","x":1.5,"y":4.7},{"s":"ssDNA (BDD/poly-melamine)","x":1.54,"y":5.6},{"s":"ssDNA (BDD/poly-melamine)","x":1.574,"y":6.74},{"s":"ssDNA (BDD/poly-melamine)","x":1.59,"y":7.3}
  ]},
  "layer": [
    {
      "mark": {"type": "line", "strokeWidth": 1.5, "interpolate": "monotone", "clip": true},
      "encoding": {
        "x": {"field": "x", "type": "quantitative", "scale": {"domain": [0.7, 1.6], "nice": false, "zero": false},
          "axis": {"title": "Potential (V) vs. Ag/AgCl", "titleFontSize": 15, "titlePadding": 5, "labelFontSize": 11, "labelPadding": 0, "labelOverlap": false,
            "values": [0.8, 0.9, 1.0, 1.1, 1.2, 1.3, 1.4, 1.5, 1.6],
            "labelExpr": "round(datum.value*10)%2==0 ? format(datum.value,'.1f') : ''",
            "tickSize": {"condition": {"test": "round(datum.value*10)%2!=0", "value": 2.5}, "value": 5}}},
        "y": {"field": "y", "type": "quantitative", "scale": {"domain": [0, 7], "nice": false},
          "axis": {"title": "Current (μA)", "titleFontSize": 13, "titlePadding": 14, "labelFontSize": 11, "labelOverlap": false,
            "values": [0, 1, 2, 3, 4, 5, 6],
            "labelExpr": "datum.value%2==0 ? format(datum.value,'d') : ''",
            "tickSize": {"condition": {"test": "datum.value%2!=0", "value": 2.5}, "value": 5}}},
        "color": {"field": "s", "type": "nominal",
          "scale": {"domain": ["ctDNA  (BDD)", "ssDNA (BDD)", "ctDNA  (BDD/poly-melamine)", "ssDNA (BDD/poly-melamine)"], "range": ["#555555", "#6a6ad0", "#1a1a1a", "#3535c8"]},
          "legend": {"orient": "top-left", "offset": 7, "padding": 0, "title": null, "labelFontSize": 11, "labelColor": "#444", "labelOffset": 15, "symbolType": "M-1,0H3.2", "symbolSize": 144, "symbolStrokeWidth": 1.5, "symbolFillColor": "transparent", "rowPadding": 1.5}},
        "strokeDash": {"field": "s", "type": "nominal",
          "scale": {"domain": ["ctDNA  (BDD)", "ssDNA (BDD)", "ctDNA  (BDD/poly-melamine)", "ssDNA (BDD/poly-melamine)"], "range": [[2,1.5],[2,1.5],[1,0],[1,0]]},
          "legend": {"orient": "top-left", "offset": 7, "padding": 0, "title": null, "labelFontSize": 11, "labelColor": "#444", "labelOffset": 15, "symbolType": "M-1,0H3.2", "symbolSize": 144, "symbolStrokeWidth": 1.5, "symbolFillColor": "transparent", "rowPadding": 1.5}}
      }
    },
    {
      "data": {"values": [{"t": "dGuo"}]},
      "mark": {"type": "text", "fontSize": 12, "fontWeight": "bold", "color": "#333", "align": "center", "baseline": "middle"},
      "encoding": {"x": {"datum": 1.038, "type": "quantitative"}, "y": {"datum": 2.26, "type": "quantitative"}, "text": {"field": "t"}}
    },
    {
      "data": {"values": [{"t": "dAdo"}]},
      "mark": {"type": "text", "fontSize": 12, "fontWeight": "bold", "color": "#333", "align": "center", "baseline": "middle"},
      "encoding": {"x": {"datum": 1.272, "type": "quantitative"}, "y": {"datum": 5.75, "type": "quantitative"}, "text": {"field": "t"}}
    },
    {
      "data": {"values": [{"t": "c)"}]},
      "mark": {"type": "text", "fontSize": 20, "color": "#111", "align": "center", "baseline": "middle"},
      "encoding": {"x": {"datum": 0.657, "type": "quantitative"}, "y": {"datum": 6.76, "type": "quantitative"}, "text": {"field": "t"}}
    }
  ]
}
]
}
